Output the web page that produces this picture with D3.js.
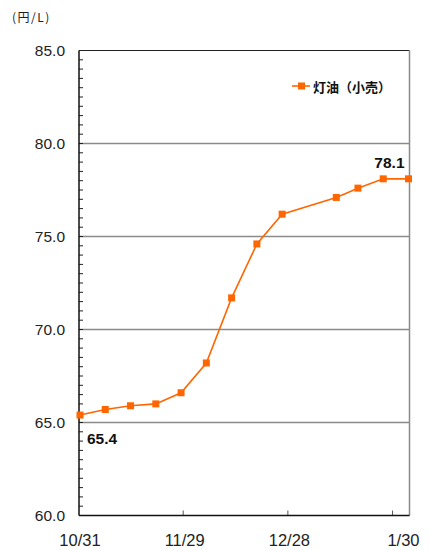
<!DOCTYPE html>
<html>
<head>
<meta charset="utf-8">
<script src="https://cdn.jsdelivr.net/npm/d3@7"></script>
<style>
  body { margin: 0; background: #fff; }
  svg { display: block; }
</style>
</head>
<body>
<div id="chart"></div>
<script>
// Kerosene retail price, weekly (yen per litre)
const dates = ["2007-10-31", "2007-11-07", "2007-11-14", "2007-11-21", "2007-11-28",
               "2007-12-05", "2007-12-12", "2007-12-19", "2007-12-26",
               "2008-01-10", "2008-01-16", "2008-01-23", "2008-01-30"];
const prices = [65.4, 65.7, 65.9, 66.0, 66.6, 68.2, 71.7, 74.6, 76.2, 77.1, 77.6, 78.1, 78.1];

const yTicks = [60, 65, 70, 75, 80, 85];
const xLabelDates = ["2007-10-31", "2007-11-29", "2007-12-28", "2008-01-30"];
const xLabels = ["10/31", "11/29", "12/28", "1/30"];
const xTickDates = ["2007-11-29", "2007-12-28", "2008-01-26"];
const seriesName = "灯油（小売）";
const unitLabel = "(円/L)";

const parse = d3.timeParse("%Y-%m-%d");
const data = dates.map((d, i) => ({ date: parse(d), value: prices[i] }));

const width = 430, height = 550;
const plotLeft = 79, plotRight = 409.5, plotTop = 50.5, plotBottom = 515.5;
const orange = "#ff6600";
const tickFont = "'Liberation Sans', Arial, sans-serif";

const svg = d3.select("#chart").append("svg")
    .attr("width", width)
    .attr("height", height);

const x = d3.scaleTime()
    .domain([parse(dates[0]), parse(dates[dates.length - 1])])
    .range([80, 408.5]);

const y = d3.scaleLinear()
    .domain([60, 85])
    .range([plotBottom, plotTop]);

// gridlines
svg.append("g")
    .selectAll("line")
    .data(yTicks.filter(v => v > 60 && v < 85))
    .enter()
    .append("line")
    .attr("x1", plotLeft).attr("x2", plotRight)
    .attr("y1", d => y(d)).attr("y2", d => y(d))
    .attr("stroke", "#8a8a8a")
    .attr("stroke-width", 1.5);

// plot frame: top black, right grey
svg.append("line")
    .attr("x1", plotLeft).attr("x2", plotRight)
    .attr("y1", plotTop).attr("y2", plotTop)
    .attr("stroke", "#222").attr("stroke-width", 1.2);
svg.append("line")
    .attr("x1", plotRight).attr("x2", plotRight)
    .attr("y1", plotTop).attr("y2", plotBottom)
    .attr("stroke", "#8a8a8a").attr("stroke-width", 1.5);

// minor ticks on y axis (every 0.5)
svg.append("g")
    .selectAll("line")
    .data(d3.range(60, 85.01, 0.5))
    .enter()
    .append("line")
    .attr("x1", plotLeft).attr("x2", plotLeft + 4)
    .attr("y1", d => y(d)).attr("y2", d => y(d))
    .attr("stroke", "#222")
    .attr("stroke-width", 1);

// x ticks pointing up
svg.append("g")
    .selectAll("line")
    .data(xTickDates.map(parse))
    .enter()
    .append("line")
    .attr("x1", d => x(d) - 1.5).attr("x2", d => x(d) - 1.5)
    .attr("y1", plotBottom).attr("y2", plotBottom - 5)
    .attr("stroke", "#555")
    .attr("stroke-width", 1);

// axis lines
svg.append("line")
    .attr("x1", plotLeft).attr("x2", plotLeft)
    .attr("y1", plotTop).attr("y2", plotBottom)
    .attr("stroke", "#111").attr("stroke-width", 1.5);
svg.append("line")
    .attr("x1", plotLeft).attr("x2", plotRight)
    .attr("y1", plotBottom).attr("y2", plotBottom)
    .attr("stroke", "#111").attr("stroke-width", 1.5);

// y labels
svg.append("g")
    .selectAll("text")
    .data(yTicks)
    .enter()
    .append("text")
    .attr("x", 65)
    .attr("y", d => y(d))
    .attr("dy", "0.36em")
    .attr("text-anchor", "end")
    .style("font-family", tickFont)
    .style("font-size", "15.5px")
    .style("fill", "#222")
    .text(d => d3.format(".1f")(d));

// x labels
svg.append("g")
    .selectAll("text")
    .data(xLabelDates.map(parse))
    .enter()
    .append("text")
    .attr("x", (d, i) => x(d) + (i === xLabels.length - 1 ? -5 : 0))
    .attr("y", 546)
    .attr("text-anchor", "middle")
    .style("font-family", tickFont)
    .style("font-size", "16.5px")
    .style("fill", "#222")
    .text((d, i) => xLabels[i]);

// unit label
svg.append("text")
    .attr("x", 12)
    .attr("y", 22)
    .style("font-family", "'Noto Sans CJK JP', sans-serif")
    .style("font-size", "12px")
    .style("letter-spacing", "1.5px")
    .style("fill", "#222")
    .text(unitLabel);

// series line
const line = d3.line()
    .x(d => x(d.date))
    .y(d => y(d.value));

svg.append("path")
    .datum(data)
    .attr("d", line)
    .attr("fill", "none")
    .attr("stroke", orange)
    .attr("stroke-width", 1.6);

svg.append("g")
    .selectAll("rect")
    .data(data)
    .enter()
    .append("rect")
    .attr("x", d => x(d.date) - 3.5)
    .attr("y", d => y(d.value) - 3.5)
    .attr("width", 7)
    .attr("height", 7)
    .attr("fill", orange);

// value labels for first and last points
const first = data[0], last = data[data.length - 1];
svg.append("text")
    .attr("x", x(first.date) + 7)
    .attr("y", y(first.value) + 29)
    .style("font-family", tickFont)
    .style("font-weight", "bold")
    .style("font-size", "15.5px")
    .style("fill", "#111")
    .text(first.value.toFixed(1));
svg.append("text")
    .attr("x", x(last.date) - 4)
    .attr("y", y(last.value) - 11)
    .attr("text-anchor", "end")
    .style("font-family", tickFont)
    .style("font-weight", "bold")
    .style("font-size", "15.5px")
    .style("fill", "#111")
    .text(last.value.toFixed(1));

// legend
const legend = svg.append("g").attr("transform", "translate(292, 86)");
legend.append("line")
    .attr("x1", 0).attr("x2", 18)
    .attr("y1", 0).attr("y2", 0)
    .attr("stroke", orange).attr("stroke-width", 1.6);
legend.append("rect")
    .attr("x", 6).attr("y", -3.5)
    .attr("width", 7).attr("height", 7)
    .attr("fill", orange);
legend.append("text")
    .attr("x", 21)
    .attr("y", 6)
    .style("font-family", "'Noto Sans CJK JP', sans-serif")
    .style("font-weight", "bold")
    .style("font-size", "13px")
    .style("fill", "#111")
    .text(seriesName);
</script>
</body>
</html>
